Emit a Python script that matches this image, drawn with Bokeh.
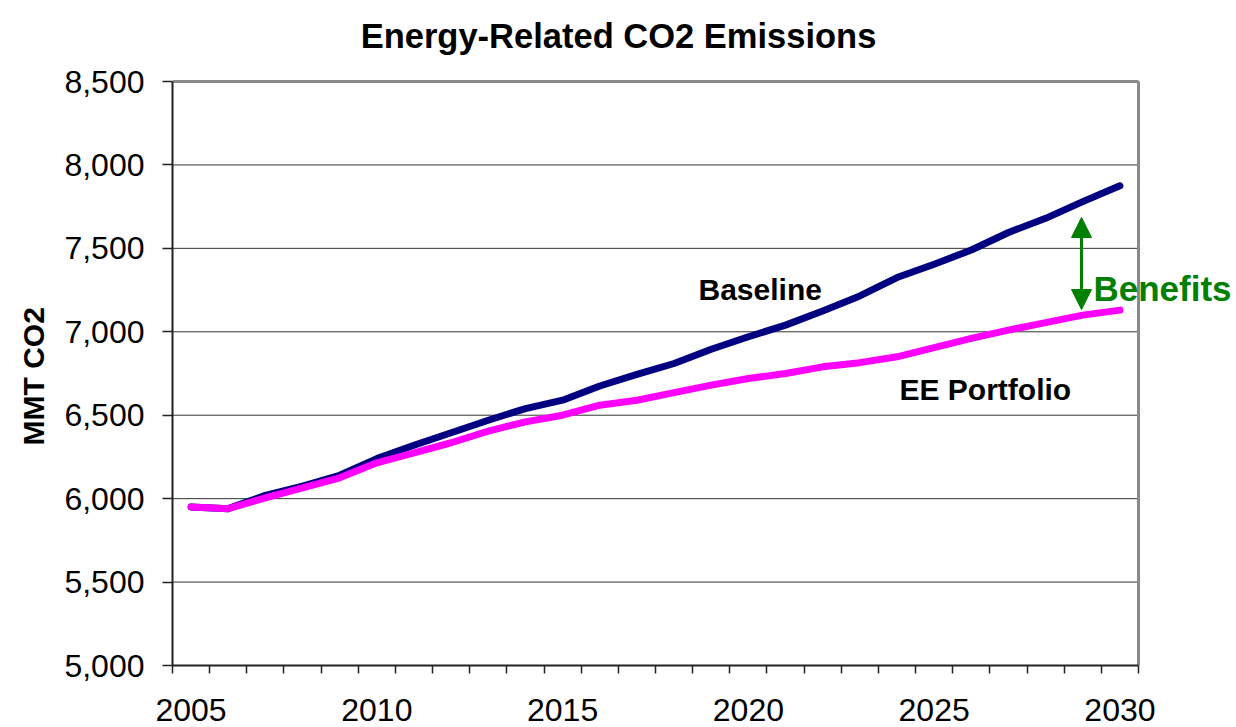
from bokeh.plotting import figure
from bokeh.models import (Range1d, FixedTicker, NumeralTickFormatter, Label, Arrow,
                          NormalHead, ColumnDataSource, Title)
from bokeh.embed import file_html
from bokeh.resources import INLINE

# ---- data ----
years = list(range(2005, 2031))
baseline = [5950, 5940, 6020, 6075, 6140, 6240, 6320, 6395, 6470, 6540,
            6590, 6675, 6745, 6810, 6895, 6970, 7040, 7125, 7215, 7325,
            7405, 7490, 7595, 7680, 7780, 7875]
ee_portfolio = [5950, 5940, 6005, 6065, 6125, 6215, 6275, 6335, 6405, 6460,
                6500, 6560, 6590, 6635, 6680, 6720, 6750, 6790, 6815, 6850,
                6905, 6960, 7010, 7055, 7100, 7130]
x_tick_labels = [2005, 2010, 2015, 2020, 2025, 2030]
y_ticks = [5000, 5500, 6000, 6500, 7000, 7500, 8000, 8500]

title_text = "Energy-Related CO2 Emissions"
y_label = "MMT CO2"

# ---- layout constants (canvas pixels) ----
AREA_L, AREA_R, AREA_T, AREA_B = 172, 1138, 81, 665   # plot-area box
FRAME_T, CANVAS_W, CANVAS_H = 0, 1236, 727
X0, XD1 = years[0] - 0.5, years[-1] + 0.5
Y0, YD1 = y_ticks[0], y_ticks[-1]
PX_X = (AREA_R - AREA_L) / (XD1 - X0)
PX_Y = (AREA_B - AREA_T) / (YD1 - Y0)
FRAME_W = CANVAS_W - AREA_L
FRAME_H = AREA_B - FRAME_T


def dx(px):
    return X0 + (px - AREA_L) / PX_X


def dy(py):
    return Y0 + (AREA_B - py) / PX_Y


FONT = "Liberation Sans"

p = figure(frame_width=FRAME_W, frame_height=FRAME_H,
           min_border_left=AREA_L, min_border_top=FRAME_T,
           min_border_right=0, min_border_bottom=CANVAS_H - AREA_B,
           x_range=Range1d(X0, dx(CANVAS_W)), y_range=Range1d(Y0, dy(FRAME_T)),
           output_backend="svg", toolbar_location=None,
           background_fill_color="white", border_fill_color="white")

p.outline_line_color = None

# x axis
p.xaxis.bounds = (X0, XD1)
p.xaxis.ticker = FixedTicker(ticks=x_tick_labels,
                             minor_ticks=[y - 0.5 for y in years] + [years[-1] + 0.5])
p.xaxis.major_tick_out = 0
p.xaxis.major_tick_in = 0
p.xaxis.minor_tick_out = 8
p.xaxis.minor_tick_in = 0
p.xaxis.minor_tick_line_color = "#222222"
p.xaxis.minor_tick_line_width = 1.5
p.xaxis.axis_line_color = "#222222"
p.xaxis.axis_line_width = 2
p.xaxis.major_label_text_font = FONT
p.xaxis.major_label_text_font_size = "32px"
p.xaxis.major_label_text_color = "black"
p.xaxis.major_label_standoff = 25

# y axis
p.yaxis.bounds = (Y0, YD1)
p.yaxis.ticker = FixedTicker(ticks=y_ticks)
p.yaxis.formatter = NumeralTickFormatter(format="0,0")
p.yaxis.major_tick_out = 10
p.yaxis.major_tick_in = 0
p.yaxis.minor_tick_out = 0
p.yaxis.minor_tick_in = 0
p.yaxis.major_tick_line_color = "#222222"
p.yaxis.major_tick_line_width = 1.5
p.yaxis.axis_line_color = "#222222"
p.yaxis.axis_line_width = 2
p.yaxis.major_label_text_font = FONT
p.yaxis.major_label_text_font_size = "32px"
p.yaxis.major_label_text_color = "black"
p.yaxis.major_label_standoff = 18

# y-axis title placed as a side title so it can be centred on the plot area
p.add_layout(Title(text=y_label, align="left", offset=AREA_B - 445, standoff=24,
                   text_font=FONT, text_font_size="30px", text_font_style="bold",
                   text_color="black"), "left")

# grid (limited to the plot area) and plot-area border
p.xgrid.grid_line_color = None
p.ygrid.grid_line_color = None
p.segment(x0=[X0] * len(y_ticks), x1=[XD1] * len(y_ticks), y0=y_ticks, y1=y_ticks,
          line_color="#333333", line_width=1)
p.segment(x0=[X0, XD1], x1=[XD1, XD1], y0=[YD1, Y0], y1=[YD1, YD1],
          line_color="#8a8a8a", line_width=3)

src = ColumnDataSource(dict(year=years, baseline=baseline, ee=ee_portfolio))
p.line("year", "baseline", source=src, line_color="#000080", line_width=7,
       line_cap="round", line_join="round")
p.line("year", "ee", source=src, line_color="#FF00FF", line_width=7,
       line_cap="round", line_join="round")

# annotations
p.add_layout(Label(x=dx(618), y=dy(35), text=title_text, text_align="center",
                   text_baseline="alphabetic", text_font=FONT, text_font_size="34.5px",
                   text_font_style="bold", text_color="black"))
p.add_layout(Label(x=dx(698), y=dy(289), text="Baseline", text_align="left",
                   text_baseline="alphabetic", text_font=FONT, text_font_size="30px",
                   text_font_style="bold", text_color="black"))
p.add_layout(Label(x=dx(899), y=dy(389), text="EE Portfolio", text_align="left",
                   text_baseline="alphabetic", text_font=FONT, text_font_size="30px",
                   text_font_style="bold", text_color="black"))
p.add_layout(Label(x=dx(1093), y=dy(288), text="Benefits", text_align="left",
                   text_baseline="alphabetic", text_font=FONT, text_font_size="35px",
                   text_font_style="bold", text_color="#008000"))

green = "#008000"
p.add_layout(Arrow(start=NormalHead(size=20, fill_color=green, line_color=green),
                   end=NormalHead(size=20, fill_color=green, line_color=green),
                   x_start=dx(1081), y_start=dy(309), x_end=dx(1081), y_end=dy(217),
                   line_color=green, line_width=3))

open("out.html", "w").write(file_html(p, INLINE))
